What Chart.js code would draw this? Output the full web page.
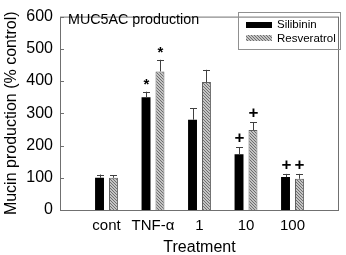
<!DOCTYPE html>
<html>
<head>
<meta charset="utf-8">
<script src="https://cdn.jsdelivr.net/npm/chart.js@4/dist/chart.umd.min.js"></script>
<style>
html,body{margin:0;padding:0;background:#fff;}
#wrap{width:346px;height:255px;position:relative;}
</style>
</head>
<body>
<div id="wrap"><canvas id="c" width="346" height="255"></canvas></div>
<script>
// ---- data ----
const categories = ['', 'cont', 'TNF-\u03b1', '1', '10', '100', ''];
const silibinin = [null, 100, 350, 280, 173, 102, null];
const silibininErr = [null, 10, 17, 35, 21, 10, null];
const silibininMarks = ['', '', '*', '', '+', '+', ''];
const resveratrol = [null, 100, 430, 397, 248, 97, null];
const resveratrolErr = [null, 8, 36, 38, 25, 15, null];
const resveratrolMarks = ['', '', '*', '', '+', '+', ''];
const yTicks = [0, 100, 200, 300, 400, 500, 600];
const panelTitle = 'MUC5AC production';
const seriesNames = ['Silibinin', 'Resveratrol'];

const FONT = "'Liberation Sans', Arial, Helvetica, sans-serif";

function makeHatch() {
  const p = document.createElement('canvas');
  p.width = 3; p.height = 3;
  const g = p.getContext('2d');
  g.fillStyle = '#c4c4c4';
  g.fillRect(0, 0, 3, 3);
  g.fillStyle = '#6e6e6e';
  g.fillRect(0, 0, 1, 1);
  g.fillRect(1, 1, 1, 1);
  g.fillRect(2, 2, 1, 1);
  return g.createPattern(p, 'repeat');
}
const hatch = makeHatch();

const errs = [silibininErr, resveratrolErr];
const marks = [silibininMarks, resveratrolMarks];

const decor = {
  id: 'decor',
  afterDatasetsDraw(chart) {
    const ctx = chart.ctx;
    const a = chart.chartArea;
    const ys = chart.scales.y;
    ctx.save();
    // frame
    ctx.strokeStyle = '#707070';
    ctx.lineWidth = 1;
    ctx.strokeRect(a.left + 0.5, a.top + 0.5, a.right - a.left - 1, a.bottom - a.top);
    // inward y ticks
    ctx.beginPath();
    yTicks.forEach(v => {
      const y = Math.round(ys.getPixelForValue(v)) + 0.5;
      ctx.moveTo(a.left, y); ctx.lineTo(a.left + 4, y);
    });
    ctx.stroke();
    // error bars + marks
    chart.data.datasets.forEach((ds, di) => {
      const meta = chart.getDatasetMeta(di);
      meta.data.forEach((el, i) => {
        const v = ds.data[i];
        if (v == null) return;
        const e = errs[di][i];
        const x = Math.round(el.x) + 0.5;
        const yt = ys.getPixelForValue(v + e);
        ctx.strokeStyle = '#404040';
        ctx.lineWidth = 1;
        ctx.beginPath();
        ctx.moveTo(x, el.y);
        ctx.lineTo(x, yt);
        ctx.moveTo(x - 3.5, Math.round(yt) + 0.5);
        ctx.lineTo(x + 3.5, Math.round(yt) + 0.5);
        ctx.stroke();
        const m = marks[di][i];
        if (m) {
          ctx.fillStyle = '#000';
          ctx.textAlign = 'center';
          ctx.textBaseline = 'alphabetic';
          if (m === '*') {
            ctx.font = 'bold 15px ' + FONT;
            ctx.fillText(m, x, yt - 11 + 8.5);
          } else {
            ctx.font = 'bold 17px ' + FONT;
            ctx.fillText(m, x, yt - 10 + 6);
          }
        }
      });
    });
    // panel title
    ctx.fillStyle = '#000';
    ctx.font = '14.3px ' + FONT;
    ctx.textAlign = 'left';
    ctx.textBaseline = 'middle';
    ctx.fillText(panelTitle, a.left + 8, 20.5);
    // legend
    ctx.strokeStyle = '#909090';
    ctx.strokeRect(238.5, 12.5, 102, 37);
    ctx.fillStyle = '#000';
    ctx.fillRect(246, 22, 26, 6);
    ctx.fillStyle = hatch;
    ctx.fillRect(246, 35, 26, 6);
    ctx.fillStyle = '#000';
    ctx.font = '11.5px ' + FONT;
    ctx.textBaseline = 'middle';
    ctx.fillText(seriesNames[0], 277, 25);
    ctx.fillText(seriesNames[1], 277, 38.5);
    ctx.restore();
  }
};

new Chart(document.getElementById('c'), {
  type: 'bar',
  data: {
    labels: categories,
    datasets: [
      { label: seriesNames[0], data: silibinin, backgroundColor: '#000', borderColor: '#000', borderWidth: 0,
        categoryPercentage: 0.6, barPercentage: 0.64 },
      { label: seriesNames[1], data: resveratrol, backgroundColor: hatch, borderColor: '#606060', borderWidth: 1,
        categoryPercentage: 0.6, barPercentage: 0.64 }
    ]
  },
  options: {
    responsive: false,
    animation: false,
    devicePixelRatio: 1,
    layout: { padding: { top: 7, right: 2, left: 0, bottom: 0 } },
    plugins: { legend: { display: false }, tooltip: { enabled: false } },
    scales: {
      x: {
        offset: false,
        grid: { display: false, drawTicks: false },
        border: { display: false },
        ticks: { color: '#000', font: { family: FONT, size: 15 }, padding: 7, autoSkip: false, maxRotation: 0 },
        title: { display: true, text: 'Treatment', color: '#000', font: { family: FONT, size: 16, lineHeight: 1 }, padding: { top: 6, bottom: -1 } },
        afterFit(s) { s.height = 45; }
      },
      y: {
        min: 0, max: 600,
        afterBuildTicks(s) { s.ticks = yTicks.map(v => ({ value: v })); },
        grid: { display: false, drawTicks: false },
        border: { display: false },
        ticks: { color: '#000', font: { family: FONT, size: 16 }, padding: 7 },
        title: { display: true, text: 'Mucin production (% control)', color: '#000', font: { family: FONT, size: 16 }, padding: { top: 2, bottom: 0 } },
        afterFit(s) { s.width = 60; }
      }
    }
  },
  plugins: [decor]
});
</script>
</body>
</html>
